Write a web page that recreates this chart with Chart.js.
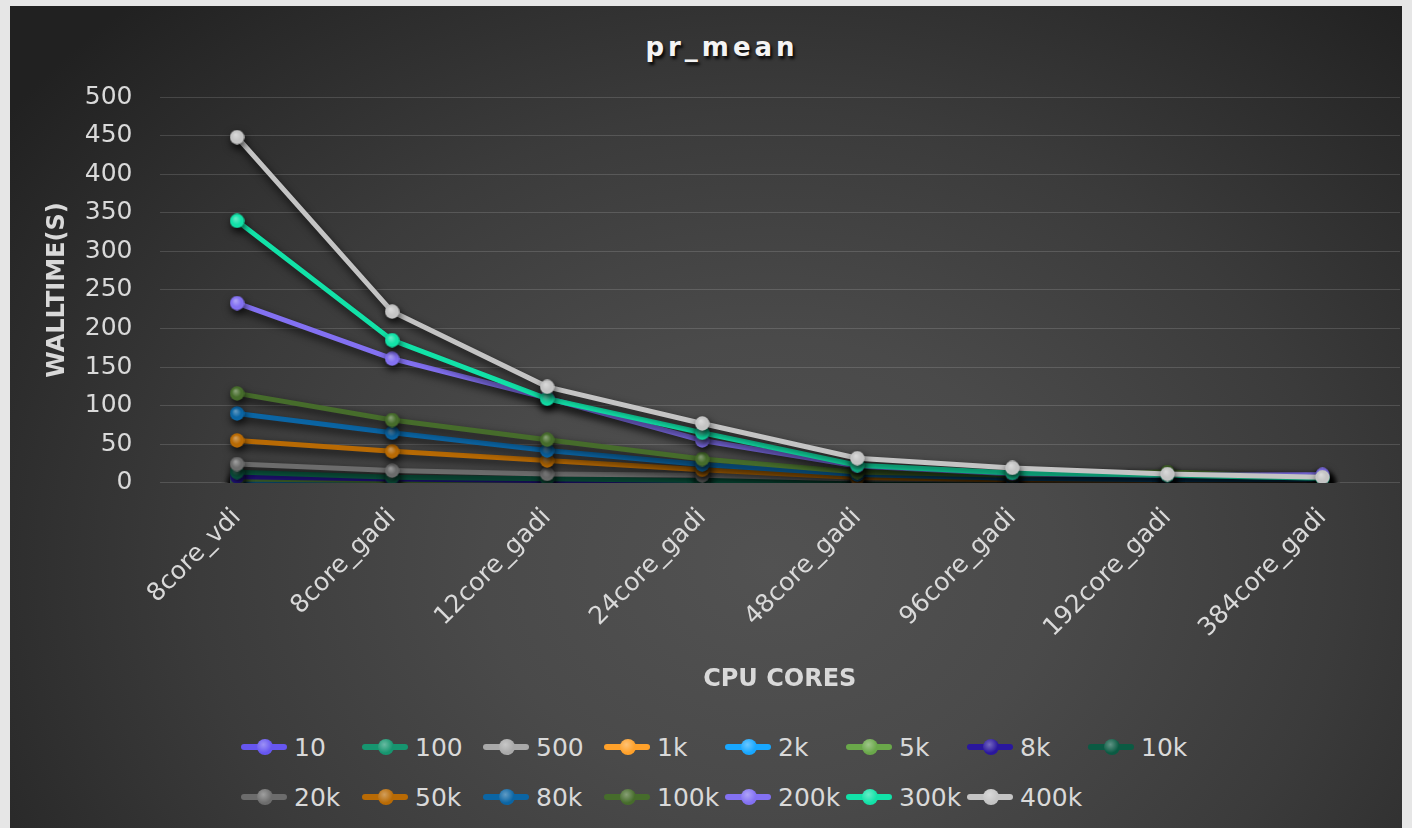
<!DOCTYPE html>
<html>
<head>
<meta charset="utf-8">
<script src="https://cdn.jsdelivr.net/npm/chart.js@4.4.1/dist/chart.umd.min.js"></script>
<style>
  html, body { margin: 0; padding: 0; width: 1412px; height: 828px; overflow: hidden; background: #e6e6e6; }
  #panel {
    position: absolute; left: 10px; top: 6px; width: 1392px; height: 822px;
    background: radial-gradient(ellipse 950px 760px at 760px 560px, #525252 0%, #4a4a4a 30%, #3b3b3b 60%, #292929 88%, #212121 100%);
  }
  #title {
    position: absolute; left: 0; top: 32px; width: 1444px; text-align: center;
    font: bold 26px "DejaVu Sans", sans-serif; letter-spacing: 4px; color: #f4f4f4;
    text-shadow: 2px 3px 3px rgba(0,0,0,0.85);
  }
  #wrap { position: absolute; left: 0; top: 0; width: 1412px; height: 700px; }
  #legend {
    position: absolute; left: 241px; top: 722px; width: 980px;
    display: grid; grid-template-columns: repeat(8, 121px);
  }
  .item { display: flex; align-items: center; height: 50px; }
  .mk { position: relative; width: 46px; height: 6px; border-radius: 3px; margin-right: 7px; flex: none; }
  .mk i { position: absolute; left: 16px; top: -5px; width: 16px; height: 16px; border-radius: 50%; }
  .lbl { font: 25px "DejaVu Sans", sans-serif; color: #d9d9d9; }
</style>
</head>
<body>
<div id="panel"></div>
<div id="title">pr_mean</div>
<div id="wrap"><canvas id="c"></canvas></div>
<div id="legend"></div>
<script>
// Run configurations (x axis)
const categories = ['8core_vdi', '8core_gadi', '12core_gadi', '24core_gadi', '48core_gadi', '96core_gadi', '192core_gadi', '384core_gadi'];

// Mean walltime in seconds for each problem size
const s10   = [0.3, 0.2, 0.2, 0.2, 0.3, 0.5, 0.8, 1.5];
const s100  = [0.8, 0.5, 0.4, 0.4, 0.5, 0.7, 1.0, 2.0];
const s500  = [1.5, 1.0, 0.8, 0.6, 0.6, 0.8, 1.1, 2.0];
const s1k   = [2.0, 1.2, 0.9, 0.7, 0.7, 0.9, 1.2, 2.0];
const s2k   = [3.0, 1.8, 1.3, 0.9, 0.8, 1.0, 1.3, 2.2];
const s5k   = [5.0, 3.0, 2.0, 1.3, 1.1, 1.1, 1.5, 2.4];
const s8k   = [8.0, 5.0, 3.0, 2.0, 1.5, 1.3, 1.7, 2.5];
const s10k  = [14.0, 7.5, 5.5, 3.0, 2.5, 2.0, 2.0, 3.0];
const s20k  = [24.5, 16.0, 11.7, 10.0, 5.0, 3.5, 3.0, 3.5];
const s50k  = [55.0, 41.0, 29.0, 17.0, 7.0, 4.0, 3.5, 4.0];
const s80k  = [90.0, 65.0, 42.0, 24.0, 11.0, 6.0, 4.0, 4.5];
const s100k = [116.0, 81.5, 56.0, 31.0, 14.0, 10.0, 14.0, 7.0];
const s200k = [233.0, 161.0, 110.0, 55.0, 22.0, 12.0, 10.0, 10.5];
const s300k = [339.5, 185.0, 109.0, 65.0, 23.0, 13.0, 10.0, 6.0];
const s400k = [448.0, 222.0, 124.5, 77.0, 32.0, 19.5, 11.5, 7.5];

const seriesNames = ['10', '100', '500', '1k', '2k', '5k', '8k', '10k', '20k', '50k', '80k', '100k', '200k', '300k', '400k'];
const seriesValues = [s10, s100, s500, s1k, s2k, s5k, s8k, s10k, s20k, s50k, s80k, s100k, s200k, s300k, s400k];
const seriesColors = ['#6656f0', '#16956f', '#a9a9a9', '#ffa12a', '#18a7ff', '#6aa84a', '#2a179e', '#0b5b43',
                      '#6c6c6c', '#b86a04', '#0b65a4', '#466c2b', '#8371f2', '#12e2a8', '#c4c4c4'];

const yTicks = [0, 50, 100, 150, 200, 250, 300, 350, 400, 450, 500];

function mix(hex, t) {
  const n = parseInt(hex.slice(1), 16);
  const r = (n >> 16) & 255, g = (n >> 8) & 255, b = n & 255;
  const f = v => Math.round(v + (255 - v) * t);
  return `rgb(${f(r)},${f(g)},${f(b)})`;
}

// Glossy round marker drawn once per colour
function marker(color) {
  const c = document.createElement('canvas');
  c.width = c.height = 15;
  const g = c.getContext('2d');
  const gr = g.createRadialGradient(6, 5, 0.5, 7.5, 7.5, 7.5);
  gr.addColorStop(0, mix(color, 0.35));
  gr.addColorStop(0.6, color);
  gr.addColorStop(1, color);
  g.fillStyle = gr;
  g.beginPath();
  g.arc(7.5, 7.5, 7.2, 0, Math.PI * 2);
  g.fill();
  return c;
}

const datasets = seriesNames.map((name, i) => ({
  label: name,
  data: seriesValues[i],
  borderColor: seriesColors[i],
  backgroundColor: seriesColors[i],
  borderWidth: 5,
  pointStyle: marker(seriesColors[i]),
  pointRadius: 7,
  pointHoverRadius: 7,
  tension: 0,
  order: seriesNames.length - i
}));

// Soft drop shadow under every series
const shadowPlugin = {
  id: 'seriesShadow',
  beforeDatasetDraw(chart) {
    const ctx = chart.ctx;
    ctx.save();
    ctx.shadowColor = 'rgba(0,0,0,0.8)';
    ctx.shadowBlur = 9;
    ctx.shadowOffsetX = 1;
    ctx.shadowOffsetY = 4;
  },
  afterDatasetDraw(chart) {
    chart.ctx.restore();
  }
};

const chart = new Chart(document.getElementById('c'), {
  type: 'line',
  data: { labels: categories, datasets },
  plugins: [shadowPlugin],
  options: {
    responsive: true,
    maintainAspectRatio: false,
    animation: false,
    layout: { padding: { top: 97, left: 43, right: 6, bottom: 6 } },
    plugins: { legend: { display: false }, tooltip: { enabled: false }, title: { display: false } },
    scales: {
      x: {
        offset: true,
        grid: { display: false },
        border: { display: false },
        ticks: {
          color: '#d9d9d9', font: { family: 'DejaVu Sans', size: 25 },
          maxRotation: 45, minRotation: 45, padding: 12
        },
        // rotated labels may hang past the plot edges
        afterFit(scale) { scale.paddingLeft = 0; scale.paddingRight = 0; },
        title: {
          display: true, text: 'CPU CORES', color: '#d9d9d9',
          font: { family: 'DejaVu Sans', size: 24, weight: 'bold' }, padding: { top: 10, bottom: 0 }
        }
      },
      y: {
        min: 0, max: 500,
        afterBuildTicks(axis) { axis.ticks = yTicks.map(v => ({ value: v })); },
        grid: { color: 'rgba(255,255,255,0.14)', lineWidth: 1, drawTicks: false },
        border: { display: false },
        ticks: { color: '#d9d9d9', font: { family: 'DejaVu Sans', size: 25 }, padding: 27 },
        title: {
          display: true, text: 'WALLTIME(S)', color: '#d9d9d9',
          font: { family: 'DejaVu Sans', size: 24, weight: 'bold' }, padding: { top: 0, bottom: -14 }
        }
      }
    }
  }
});

// Legend laid out on a fixed grid, built from the chart's datasets
const legend = document.getElementById('legend');
chart.data.datasets.forEach(ds => {
  const item = document.createElement('div');
  item.className = 'item';
  const mk = document.createElement('span');
  mk.className = 'mk';
  mk.style.background = ds.borderColor;
  const dot = document.createElement('i');
  dot.style.background = `radial-gradient(circle at 40% 35%, ${mix(ds.borderColor, 0.35)} 0%, ${ds.borderColor} 60%)`;
  mk.appendChild(dot);
  const lbl = document.createElement('span');
  lbl.className = 'lbl';
  lbl.textContent = ds.label;
  item.appendChild(mk);
  item.appendChild(lbl);
  legend.appendChild(item);
});
</script>
</body>
</html>
